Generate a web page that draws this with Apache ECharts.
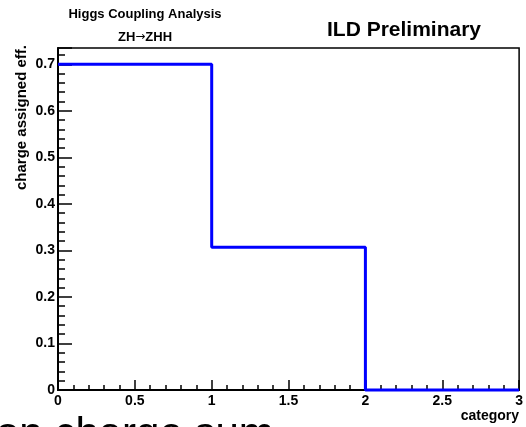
<!DOCTYPE html>
<html>
<head>
<meta charset="utf-8">
<script src="https://cdn.jsdelivr.net/npm/echarts@6/dist/echarts.min.js"></script>
<style>
  html, body { margin: 0; padding: 0; background: #fff; }
  #chart { width: 526px; height: 427px; }
</style>
</head>
<body>
<div id="chart"></div>
<script>
// Histogram bins: lower edges plus the final upper edge
const binEdges = [0, 1, 2, 3];
// Charge-assigned efficiency per category bin
const effValues = [0.70, 0.307, 0.0];
// Axis ranges
const xRange = [0, 3];
const yRange = [0, 0.735];

const FONT = '"Liberation Sans", Helvetica, Arial, sans-serif';

// Step points: each bin's level starts at its lower edge; the last level is held to the upper edge
const stepPoints = effValues.map((v, i) => [binEdges[i], v]);
stepPoints.push([binEdges[binEdges.length - 1], effValues[effValues.length - 1]]);

const chart = echarts.init(document.getElementById('chart'), null, { renderer: 'canvas' });

const labelStyle = { fontFamily: FONT, fontWeight: 'bold', fontSize: 14, color: '#000' };

chart.setOption({
  animation: false,
  backgroundColor: '#fff',
  grid: {
    left: 58, right: 5, top: 48, bottom: 37,
    show: true, borderColor: '#000', borderWidth: 1.5, backgroundColor: 'transparent'
  },
  xAxis: {
    type: 'value',
    min: xRange[0], max: xRange[1], interval: 0.5,
    axisLine: { show: true, onZero: false, lineStyle: { color: '#000', width: 2 } },
    axisTick: { show: true, inside: true, length: 10, lineStyle: { color: '#000', width: 1.5 } },
    minorTick: { show: true, splitNumber: 5, length: 5, lineStyle: { color: '#000', width: 1.5 } },
    splitLine: { show: false },
    axisLabel: Object.assign({ margin: 4, formatter: v => String(v) }, labelStyle)
  },
  yAxis: [
    {
      type: 'value',
      min: yRange[0], max: yRange[1], interval: 0.1,
      axisLine: { show: true, onZero: false, lineStyle: { color: '#000', width: 2 } },
      axisTick: { show: true, inside: true, length: 14, lineStyle: { color: '#000', width: 1.5 } },
      splitLine: { show: false },
      axisLabel: Object.assign({
        margin: 3,
        formatter: v => {
          const k = Math.round(v * 10);
          if (Math.abs(v * 10 - k) > 1e-6 || k > 7) return '';
          return k === 0 ? '0' : (k / 10).toFixed(1);
        }
      }, labelStyle)
    },
    {
      // finer ticks every 0.02 on the same scale
      type: 'value',
      min: yRange[0], max: yRange[1], interval: 0.02,
      position: 'left',
      axisLine: { show: false },
      axisTick: { show: true, inside: true, length: 7, lineStyle: { color: '#000', width: 1.5 } },
      splitLine: { show: false },
      axisLabel: { show: false }
    }
  ],
  series: [{
    type: 'line',
    step: 'end',
    data: stepPoints,
    yAxisIndex: 0,
    symbol: 'none',
    clip: false,
    lineStyle: { color: '#0000ff', width: 3 },
    z: 5
  }],
  graphic: [
    {
      type: 'text', x: 145, y: 14,
      style: { text: 'Higgs Coupling Analysis', font: 'bold 13px ' + FONT, fill: '#000',
               textAlign: 'center', textVerticalAlign: 'middle' }
    },
    {
      type: 'text', x: 145, y: 37,
      style: {
        text: '{a|ZH}{b|\u2192}{a|ZHH}',
        textAlign: 'center', textVerticalAlign: 'middle',
        rich: {
          a: { fontFamily: FONT, fontWeight: 'bold', fontSize: 13, color: '#000' },
          b: { fontFamily: '"DejaVu Sans", sans-serif', fontSize: 12, color: '#000' }
        }
      }
    },
    {
      type: 'text', x: 404, y: 30,
      style: { text: 'ILD Preliminary', font: 'bold 21px ' + FONT, fill: '#000',
               textAlign: 'center', textVerticalAlign: 'middle' }
    },
    {
      type: 'text', x: 22, y: 45, rotation: Math.PI / 2,
      style: { text: 'charge assigned eff.', font: 'bold 15px ' + FONT, fill: '#000',
               textAlign: 'right', textVerticalAlign: 'middle' }
    },
    {
      type: 'text', x: 519, y: 416,
      style: { text: 'category', font: 'bold 14px ' + FONT, fill: '#000',
               textAlign: 'right', textVerticalAlign: 'middle' }
    },
    {
      type: 'text', x: -4, y: 435,
      style: { text: 'on charge sum', font: '42px ' + FONT, fill: '#000',
               textAlign: 'left', textVerticalAlign: 'middle' }
    }
  ]
});
</script>
</body>
</html>
